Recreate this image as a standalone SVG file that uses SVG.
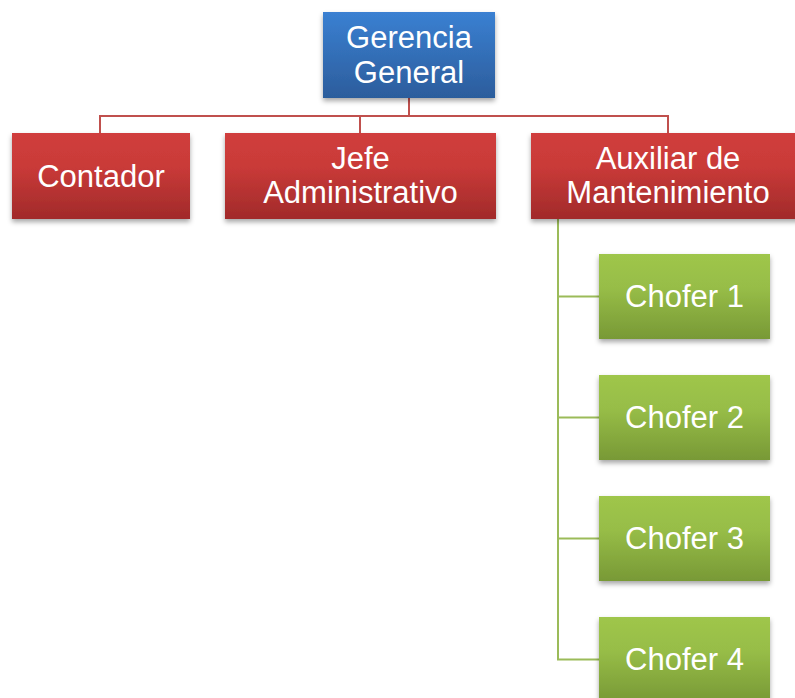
<svg xmlns="http://www.w3.org/2000/svg" width="795" height="698" viewBox="0 0 795 698">
<defs>
<linearGradient id="gBlue" x1="0" y1="0" x2="0" y2="1"><stop offset="0" stop-color="#3a80d2"/><stop offset="1" stop-color="#2c5d9c"/></linearGradient>
<linearGradient id="gRed" x1="0" y1="0" x2="0" y2="1"><stop offset="0" stop-color="#d03e3c"/><stop offset="0.4" stop-color="#c93a38"/><stop offset="1" stop-color="#a12a2a"/></linearGradient>
<linearGradient id="gGreen" x1="0" y1="0" x2="0" y2="1"><stop offset="0" stop-color="#9fc64b"/><stop offset="0.4" stop-color="#97bd47"/><stop offset="1" stop-color="#789936"/></linearGradient>
<filter id="sh" x="-10%" y="-10%" width="120%" height="130%"><feDropShadow dx="0" dy="3" stdDeviation="2.5" flood-color="#000" flood-opacity="0.35"/></filter>
</defs>
<style>
text{font-family:"Liberation Sans",Arial,sans-serif;font-size:31px;fill:#fff;text-anchor:middle}
.red{stroke:#c0504d;stroke-width:2;fill:none}
.grn{stroke:#9bbb59;stroke-width:2;fill:none}
</style>
<g id="connectors">
<path class="red" d="M409 98V116M100 133V116H668V133M360 116V133"/>
<path class="grn" d="M558 219V659.5H599M558 296.5H599M558 417.5H599M558 538.5H599"/>
</g>
<g id="gerencia"><rect x="323" y="12" width="172" height="86" fill="url(#gBlue)" filter="url(#sh)"/><text x="409" y="48.3">Gerencia</text><text x="409" y="82.7">General</text></g>
<g id="contador"><rect x="12" y="133" width="178" height="86" fill="url(#gRed)" filter="url(#sh)"/><text x="101" y="186.5">Contador</text></g>
<g id="jefe"><rect x="225" y="133" width="271" height="86" fill="url(#gRed)" filter="url(#sh)"/><text x="360.5" y="169">Jefe</text><text x="360.5" y="202.7">Administrativo</text></g>
<g id="auxiliar"><rect x="531" y="133" width="274" height="86" fill="url(#gRed)" filter="url(#sh)"/><text x="668" y="169">Auxiliar de</text><text x="668" y="202.7">Mantenimiento</text></g>
<g id="chofer1"><rect x="599" y="254" width="171" height="85" fill="url(#gGreen)" filter="url(#sh)"/><text x="684.5" y="307">Chofer 1</text></g>
<g id="chofer2"><rect x="599" y="375" width="171" height="85" fill="url(#gGreen)" filter="url(#sh)"/><text x="684.5" y="428">Chofer 2</text></g>
<g id="chofer3"><rect x="599" y="496" width="171" height="85" fill="url(#gGreen)" filter="url(#sh)"/><text x="684.5" y="549">Chofer 3</text></g>
<g id="chofer4"><rect x="599" y="617" width="171" height="85" fill="url(#gGreen)" filter="url(#sh)"/><text x="684.5" y="670">Chofer 4</text></g>
</svg>
